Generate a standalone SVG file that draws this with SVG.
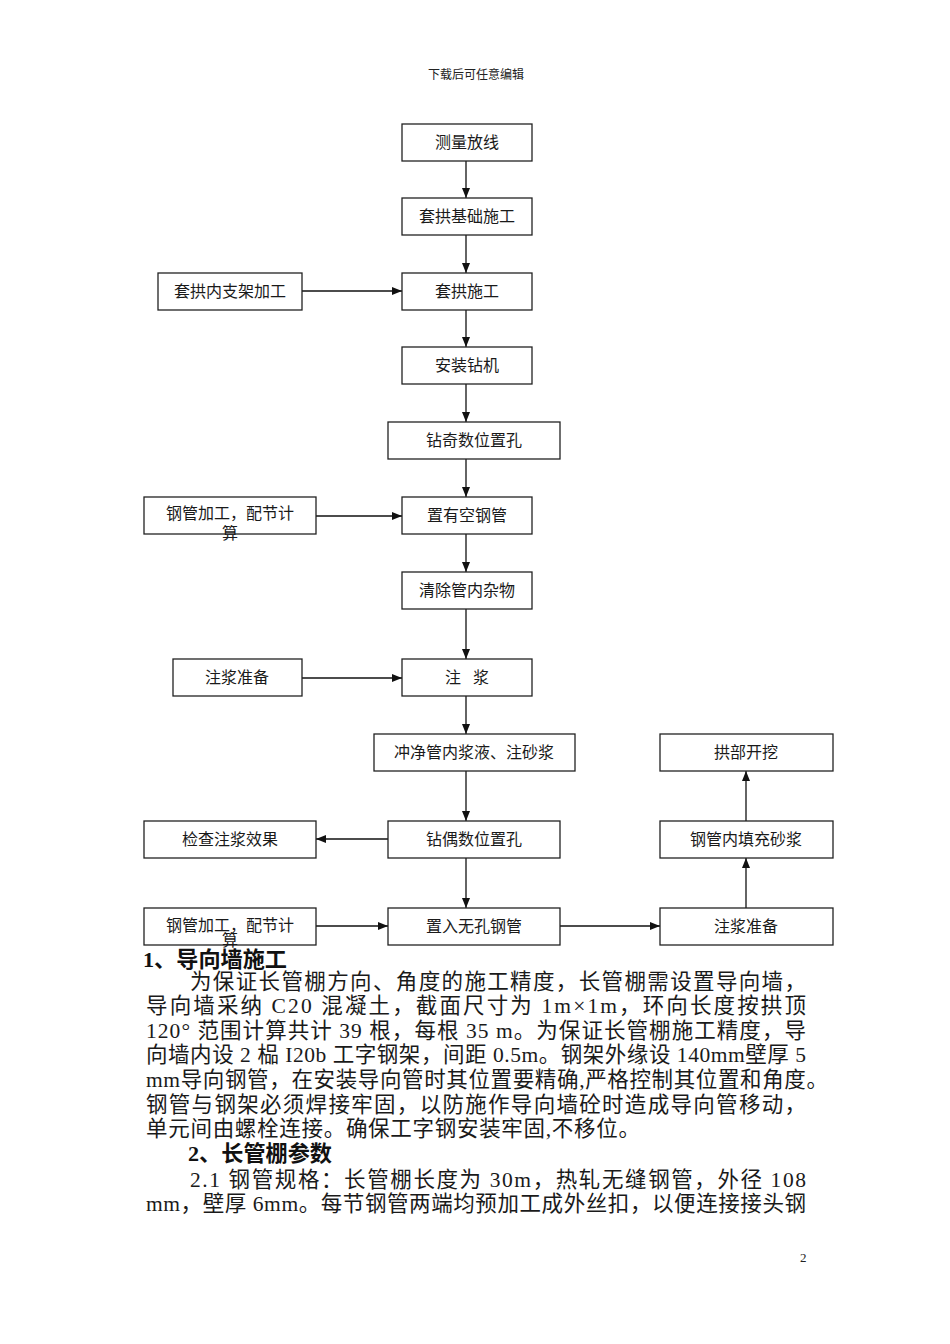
<svg xmlns="http://www.w3.org/2000/svg" width="950" height="1344" viewBox="0 0 950 1344">
<style>
.bg{fill:#ffffff}
.box{fill:#ffffff;stroke:#222;stroke-width:1.3}
.lbl{font-family:"Liberation Serif","Noto Sans CJK SC",serif;font-size:16px;fill:#1a1a1a;text-anchor:middle}
.con{stroke:#111;stroke-width:1.3;fill:none;marker-end:url(#ah)}
.body{font-family:"Liberation Serif","Noto Sans CJK SC",serif;font-size:21.5px;fill:#1a1a1a}
.hd{font-family:"Liberation Serif","Noto Sans CJK SC",serif;font-size:22px;font-weight:bold;fill:#111}
.small{font-family:"Liberation Serif","Noto Sans CJK SC",serif;fill:#222}
</style>
<defs>
<marker id="ah" markerWidth="10" markerHeight="8" refX="10" refY="4" orient="auto" markerUnits="userSpaceOnUse">
<path d="M0,0 L10,4 L0,8 z" fill="#111"/>
</marker>
</defs>
<rect class="bg" x="0" y="0" width="950" height="1344"/>
<text class="small" x="476" y="79" font-size="12" text-anchor="middle">下载后可任意编辑</text>

<g id="connectors">
<line class="con" x1="466" y1="161" x2="466" y2="198"/>
<line class="con" x1="466" y1="235" x2="466" y2="273"/>
<line class="con" x1="302" y1="291" x2="402" y2="291"/>
<line class="con" x1="466" y1="310" x2="466" y2="347"/>
<line class="con" x1="466" y1="384" x2="466" y2="422"/>
<line class="con" x1="466" y1="459" x2="466" y2="497"/>
<line class="con" x1="316" y1="516" x2="402" y2="516"/>
<line class="con" x1="466" y1="534" x2="466" y2="572"/>
<line class="con" x1="466" y1="609" x2="466" y2="659"/>
<line class="con" x1="302" y1="678" x2="402" y2="678"/>
<line class="con" x1="466" y1="696" x2="466" y2="734"/>
<line class="con" x1="466" y1="771" x2="466" y2="821"/>
<line class="con" x1="388" y1="839" x2="316" y2="839"/>
<line class="con" x1="466" y1="858" x2="466" y2="908"/>
<line class="con" x1="316" y1="926" x2="388" y2="926"/>
<line class="con" x1="560" y1="926" x2="660" y2="926"/>
<line class="con" x1="746" y1="908" x2="746" y2="858"/>
<line class="con" x1="746" y1="821" x2="746" y2="771"/>
</g>

<g id="n1"><rect class="box" x="402" y="124" width="130" height="37"/><text class="lbl" x="467" y="148">测量放线</text></g>
<g id="n2"><rect class="box" x="402" y="198" width="130" height="37"/><text class="lbl" x="467" y="222">套拱基础施工</text></g>
<g id="n3"><rect class="box" x="402" y="273" width="130" height="37"/><text class="lbl" x="467" y="297">套拱施工</text></g>
<g id="n4"><rect class="box" x="158" y="273" width="144" height="37"/><text class="lbl" x="230" y="297">套拱内支架加工</text></g>
<g id="n5"><rect class="box" x="402" y="347" width="130" height="37"/><text class="lbl" x="467" y="371">安装钻机</text></g>
<g id="n6"><rect class="box" x="388" y="422" width="172" height="37"/><text class="lbl" x="474" y="446">钻奇数位置孔</text></g>
<g id="n7"><rect class="box" x="402" y="497" width="130" height="37"/><text class="lbl" x="467" y="521">置有空钢管</text></g>
<g id="n8"><rect class="box" x="144" y="497" width="172" height="37"/><text class="lbl" x="230" y="519">钢管加工，配节计</text><text class="lbl" x="230" y="539">算</text></g>
<g id="n9"><rect class="box" x="402" y="572" width="130" height="37"/><text class="lbl" x="467" y="596">清除管内杂物</text></g>
<g id="n10"><rect class="box" x="402" y="659" width="130" height="37"/><text class="lbl" x="467" y="683"><tspan>注</tspan><tspan dx="12">浆</tspan></text></g>
<g id="n11"><rect class="box" x="173" y="659" width="129" height="37"/><text class="lbl" x="237" y="683">注浆准备</text></g>
<g id="n12"><rect class="box" x="374" y="734" width="201" height="37"/><text class="lbl" x="474" y="758">冲净管内浆液、注砂浆</text></g>
<g id="n13"><rect class="box" x="388" y="821" width="172" height="37"/><text class="lbl" x="474" y="845">钻偶数位置孔</text></g>
<g id="n14"><rect class="box" x="144" y="821" width="172" height="37"/><text class="lbl" x="230" y="845">检查注浆效果</text></g>
<g id="n15"><rect class="box" x="388" y="908" width="172" height="37"/><text class="lbl" x="474" y="932">置入无孔钢管</text></g>
<g id="n16"><rect class="box" x="144" y="908" width="172" height="37"/><text class="lbl" x="230" y="931">钢管加工，配节计</text><text class="lbl" x="230" y="946">算</text></g>
<g id="n17"><rect class="box" x="660" y="908" width="173" height="37"/><text class="lbl" x="746" y="932">注浆准备</text></g>
<g id="n18"><rect class="box" x="660" y="821" width="173" height="37"/><text class="lbl" x="746" y="845">钢管内填充砂浆</text></g>
<g id="n19"><rect class="box" x="660" y="734" width="173" height="37"/><text class="lbl" x="746" y="758">拱部开挖</text></g>

<g id="bodytext">
<text class="hd" x="143" y="967" textLength="144" lengthAdjust="spacingAndGlyphs">1、导向墙施工</text>
<text class="body" x="190" y="989" textLength="616" lengthAdjust="spacing">为保证长管棚方向、角度的施工精度，长管棚需设置导向墙，</text>
<text class="body" x="146" y="1013" textLength="660" lengthAdjust="spacing">导向墙采纳 C20 混凝土，截面尺寸为 1m×1m，环向长度按拱顶</text>
<text class="body" x="146" y="1038" textLength="660" lengthAdjust="spacing">120° 范围计算共计 39 根，每根 35 m。为保证长管棚施工精度，导</text>
<text class="body" x="146" y="1062" textLength="660" lengthAdjust="spacing">向墙内设 2 榀 I20b 工字钢架，间距 0.5m。钢架外缘设 140mm壁厚 5</text>
<text class="body" x="146" y="1087" textLength="682" lengthAdjust="spacing">mm导向钢管，在安装导向管时其位置要精确,严格控制其位置和角度。</text>
<text class="body" x="146" y="1112" textLength="660" lengthAdjust="spacing">钢管与钢架必须焊接牢固，以防施作导向墙砼时造成导向管移动，</text>
<text class="body" x="146" y="1136" textLength="494" lengthAdjust="spacing">单元间由螺栓连接。确保工字钢安装牢固,不移位。</text>
<text class="hd" x="188" y="1161" textLength="144" lengthAdjust="spacingAndGlyphs">2、长管棚参数</text>
<text class="body" x="190" y="1187" textLength="616" lengthAdjust="spacing">2.1 钢管规格：长管棚长度为 30m，热轧无缝钢管，外径 108</text>
<text class="body" x="146" y="1211" textLength="660" lengthAdjust="spacing">mm，壁厚 6mm。每节钢管两端均预加工成外丝扣，以便连接接头钢</text>
</g>

<text class="small" x="800" y="1262" font-size="13">2</text>
</svg>
